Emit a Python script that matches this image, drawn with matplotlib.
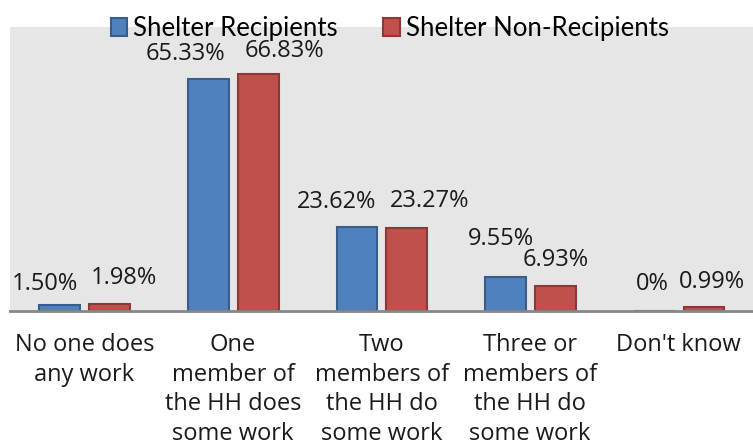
import matplotlib
matplotlib.use("Agg")
from matplotlib import pyplot as plt
import numpy as np

# categories and values (percent of households)
categories = ["No one does\nany work",
              "One\nmember of\nthe HH does\nsome work",
              "Two\nmembers of\nthe HH do\nsome work",
              "Three or\nmembers of\nthe HH do\nsome work",
              "Don't know"]
recipients = [1.50, 65.33, 23.62, 9.55, 0.0]
non_recipients = [1.98, 66.83, 23.27, 6.93, 0.99]
recipient_labels = ["1.50%", "65.33%", "23.62%", "9.55%", "0%"]
non_recipient_labels = ["1.98%", "66.83%", "23.27%", "6.93%", "0.99%"]

blue, blue_edge = "#4f81bd", "#385d8a"
red, red_edge = "#c0504d", "#8c3836"

fig = plt.figure(figsize=(7.53, 4.47), dpi=100)
ax = fig.add_axes([0.0133, 0.3049, 0.9867, 0.6347])
ax.set_facecolor("#e6e6e6")

x = np.arange(len(categories))
w = 0.275
ax.bar(x - 0.165, recipients, w, color=blue, edgecolor=blue_edge, linewidth=1.5,
       label="Shelter Recipients")
ax.bar(x + 0.17, non_recipients, w, color=red, edgecolor=red_edge, linewidth=1.5,
       label="Shelter Non-Recipients")

# label offsets (points, to the text baseline) as placed in the source chart
off_blue = [(-11, 11), (-16.5, 13.7), (-15, 13.6), (-3, 22.9), (-1, 14.9)]
off_red = [(10, 14), (19, 12), (16.5, 15.3), (0, 14.5), (5.5, 13.8)]
for i in range(len(categories)):
    ax.annotate(recipient_labels[i], (x[i] - 0.165, recipients[i]), xytext=off_blue[i],
                textcoords="offset points", ha="center", va="baseline",
                fontsize=17, family="Open Sans", color="#1a1a1a")
    ax.annotate(non_recipient_labels[i], (x[i] + 0.17, non_recipients[i]), xytext=off_red[i],
                textcoords="offset points", ha="center", va="baseline",
                fontsize=17, family="Open Sans", color="#1a1a1a")

ax.set_xlim(-0.5, 4.5)
ax.set_ylim(0, 80)
ax.set_yticks([])
ax.set_xticks(x)
ax.set_xticklabels(categories, fontsize=17, family="Open Sans", linespacing=1.32,
                   color="#1a1a1a")
ax.tick_params(axis="x", length=0, pad=16)
for s in ["top", "left", "right"]:
    ax.spines[s].set_visible(False)
ax.spines["bottom"].set_color("#888888")
ax.spines["bottom"].set_linewidth(2)

ax.legend(loc="center", bbox_to_anchor=(0.511, 0.995), ncol=2, frameon=False,
          prop={"family": "Lato", "size": 18.5}, handlelength=0.66, handleheight=0.66,
          handletextpad=0.23, columnspacing=1.75, borderaxespad=0, borderpad=0)

fig.savefig("out.png", dpi=100)
